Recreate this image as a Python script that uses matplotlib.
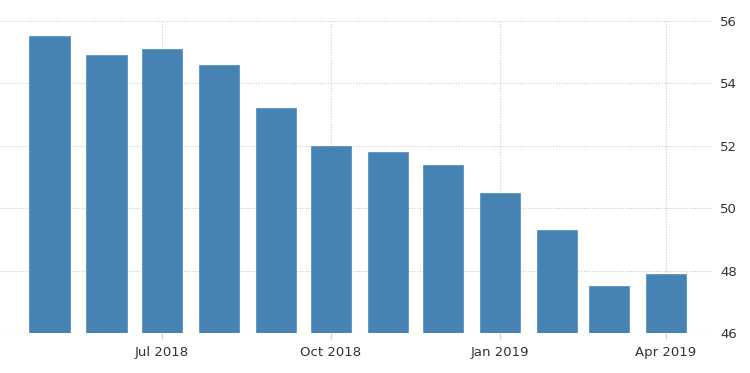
import datetime as dt
import matplotlib
matplotlib.use("Agg")
import matplotlib.pyplot as plt
import matplotlib.dates as mdates

months = [dt.date(2018, 5, 1), dt.date(2018, 6, 1), dt.date(2018, 7, 1), dt.date(2018, 8, 1),
          dt.date(2018, 9, 1), dt.date(2018, 10, 1), dt.date(2018, 11, 1), dt.date(2018, 12, 1),
          dt.date(2019, 1, 1), dt.date(2019, 2, 1), dt.date(2019, 3, 1), dt.date(2019, 4, 1)]
values = [55.5, 54.9, 55.1, 54.6, 53.2, 52.0, 51.8, 51.4, 50.5, 49.3, 47.5, 47.9]
tick_dates = [dt.date(2018, 7, 1), dt.date(2018, 10, 1), dt.date(2019, 1, 1), dt.date(2019, 4, 1)]
tick_labels = ["Jul 2018", "Oct 2018", "Jan 2019", "Apr 2019"]
yticks = [46, 48, 50, 52, 54, 56]

fig = plt.figure(figsize=(7.5, 3.73), dpi=100)
ax = fig.add_axes([0.0, 0.107, 0.949, 0.837])

ax.bar(months, [v - 46 for v in values], bottom=46, width=22, color="#4682b4",
       edgecolor="#5a93c4", linewidth=0.6, zorder=2)

ax.set_xlim(dt.date(2018, 4, 4), dt.date(2019, 4, 26))
ax.set_ylim(46, 56)
ax.set_yticks(yticks)
ax.set_xticks(tick_dates)
ax.set_xticklabels(tick_labels)

ax.yaxis.tick_right()
ax.tick_params(axis="y", length=0, pad=6, labelsize=9.5, labelcolor="#333333")
ax.tick_params(axis="x", length=4, color="#cccccc", pad=5, labelsize=9.5, labelcolor="#333333")
ax.grid(True, linestyle=(0, (1, 1.5)), color="#c8c8c8", linewidth=0.8, zorder=0)
ax.set_axisbelow(True)
for s in ax.spines.values():
    s.set_visible(False)

fig.savefig("out.png", dpi=100)
